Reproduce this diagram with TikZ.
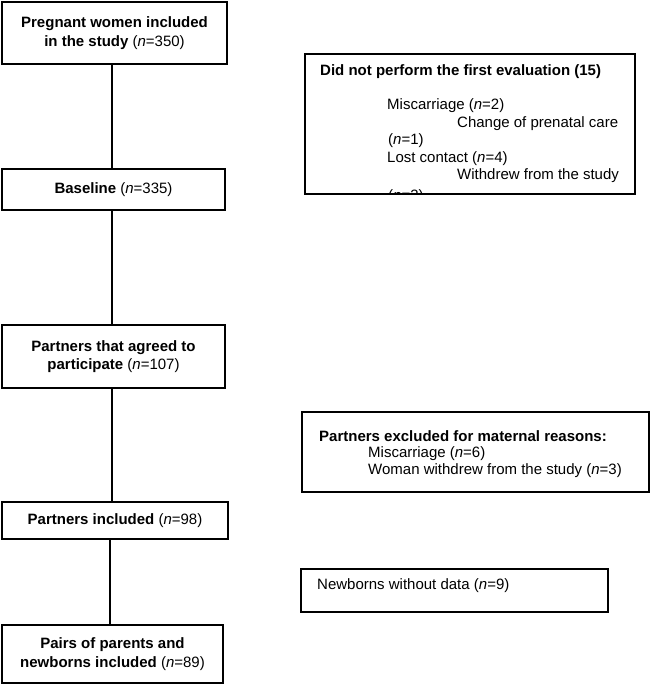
\documentclass[tikz,border=0pt]{standalone}
\usepackage{fontspec}
\setmainfont{Liberation Sans}
\usetikzlibrary{positioning}

\begin{document}
\begin{tikzpicture}[x=1pt,y=-1pt,
 every node/.style={font=\fontsize{15}{18.5}\selectfont,inner sep=0pt},
 mainbox/.style={draw,line width=1.8pt,align=center},
 sidebox/.style={draw,line width=1.8pt},
 txt/.style={anchor=west},
 edge/.style={line width=1.1pt}
]
\useasboundingbox (0,0) rectangle (651,685);

\node[mainbox,minimum width=225,minimum height=62] (women) at (114.5,33) {\textbf{Pregnant women included}\\\textbf{in the study} (\textit{n}=350)};
\node[mainbox,minimum width=223,minimum height=41] (base) at (113.5,189.5) {\textbf{Baseline} (\textit{n}=335)};
\node[mainbox,minimum width=223,minimum height=63] (agreed) at (113.5,356.5) {\textbf{Partners that agreed to}\\\textbf{participate} (\textit{n}=107)};
\node[mainbox,minimum width=226,minimum height=37] (partners) at (115,520.5) {\textbf{Partners included} (\textit{n}=98)};
\node[mainbox,minimum width=221,minimum height=58] (pairs) at (112.5,654) {\textbf{Pairs of parents and}\\\textbf{newborns included} (\textit{n}=89)};

\draw[edge] (women.south -| 112,0) -- (base.north -| 112,0);
\draw[edge] (base.south -| 112,0) -- (agreed.north -| 112,0);
\draw[edge] (agreed.south -| 112,0) -- (partners.north -| 112,0);
\draw[edge] (partners.south -| 110,0) -- (pairs.north -| 110,0);

\node[sidebox,minimum width=330,minimum height=140] (noeval) at (470,124) {};
\node[txt] (noevalt) at (320,72) {\textbf{Did not perform the first evaluation (15)}};
\node[txt] (misc) at (387,106) {Miscarriage (\textit{n}=2)};
\node[txt] (change) at (457,123.5) {Change of prenatal care};
\node[txt] (changen) at (388,141) {(\textit{n}=1)};
\node[txt] (lost) at (387,158.5) {Lost contact (\textit{n}=4)};
\node[txt] (withdrew) at (457,176) {Withdrew from the study};
\begin{scope}
\clip (306,55) rectangle (634,192);
\node[txt] (withdrewn) at (388,197) {(\textit{n}=3)};
\end{scope}

\node[sidebox,minimum width=347,minimum height=80] (excl) at (475.5,452) {};
\node[txt] (exclt) at (319,436) {\textbf{Partners excluded for maternal reasons:}};
\node[txt] (misc6) at (368,453.5) {Miscarriage (\textit{n}=6)};
\node[txt] (woman) at (368,471) {Woman withdrew from the study (\textit{n}=3)};

\node[sidebox,minimum width=307,minimum height=43] (nodata) at (454.5,590.5) {};
\node[txt] (nodatat) at (317,586) {Newborns without data (\textit{n}=9)};
\end{tikzpicture}
\end{document}
